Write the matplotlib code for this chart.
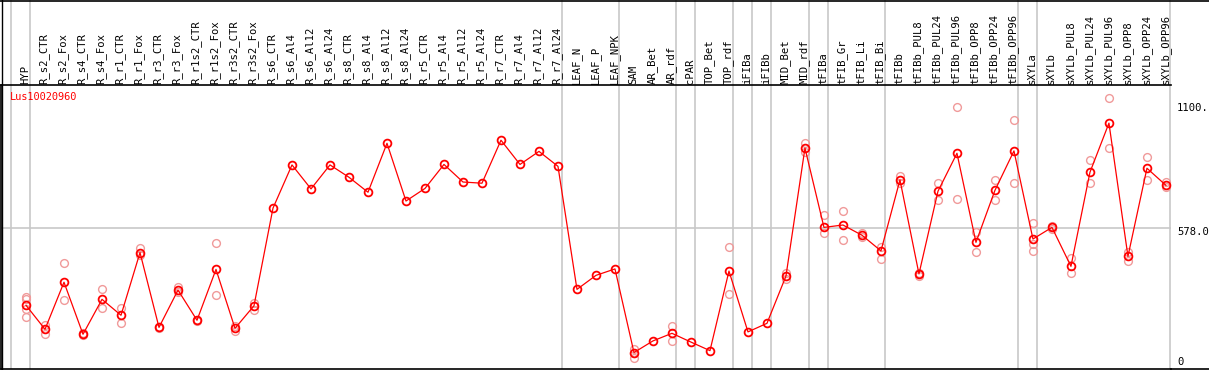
import matplotlib
matplotlib.use("Agg")
import matplotlib.pyplot as plt
from matplotlib.lines import Line2D
from matplotlib.transforms import blended_transform_factory

# sample names, left to right
samples = ["HYP",
           "R_s2_CTR", "R_s2_Fox", "R_s4_CTR", "R_s4_Fox", "R_r1_CTR", "R_r1_Fox",
           "R_r3_CTR", "R_r3_Fox", "R_r1s2_CTR", "R_r1s2_Fox", "R_r3s2_CTR", "R_r3s2_Fox",
           "R_s6_CTR", "R_s6_Al4", "R_s6_Al12", "R_s6_Al24",
           "R_s8_CTR", "R_s8_Al4", "R_s8_Al12", "R_s8_Al24",
           "R_r5_CTR", "R_r5_Al4", "R_r5_Al12", "R_r5_Al24",
           "R_r7_CTR", "R_r7_Al4", "R_r7_Al12", "R_r7_Al24",
           "LEAF_N", "LEAF_P", "LEAF_NPK",
           "SAM", "AR_Bet", "AR_rdf", "cPAR", "TOP_Bet", "TOP_rdf",
           "iFIBa", "iFIBb", "MID_Bet", "MID_rdf",
           "tFIBa", "tFIB_Gr", "tFIB_Li", "tFIB_Bi",
           "tFIBb", "tFIBb_PUL8", "tFIBb_PUL24", "tFIBb_PUL96",
           "tFIBb_OPP8", "tFIBb_OPP24", "tFIBb_OPP96",
           "sXYLa", "sXYLb", "sXYLb_PUL8", "sXYLb_PUL24", "sXYLb_PUL96",
           "sXYLb_OPP8", "sXYLb_OPP24", "sXYLb_OPP96"]

# mean expression per sample
means = [254, 153, 351, 132, 279, 212, 476, 161, 318, 191, 405, 157, 252,
         663, 845, 744, 845, 793, 730, 936, 693, 746, 847, 773, 768,
         949, 847, 902, 839,
         321, 380, 407,
         55, 104, 136, 99, 63, 398, 142, 178, 377, 916,
         582, 592, 549, 483,
         782, 386, 734, 894, 519, 738, 904,
         533, 582, 418, 814, 1021, 460, 831, 759]

# individual replicates (empty = single sample, hidden under the mean)
replicates = [[290, 282, 238, 203], [171, 134], [431, 275], [136, 128], [321, 241],
              [244, 181], [494, 466], [164, 158], [330, 308], [193, 189], [515, 297],
              [167, 146], [262, 234],
              [], [], [], [], [], [], [], [], [], [], [], [], [], [], [], [],
              [], [], [],
              [68, 55, 33], [], [168, 105], [], [], [498, 300], [], [], [391, 363], [936, 901],
              [634, 557], [651, 529], [560, 543], [501, 450],
              [798, 767], [390, 377], [769, 696], [1087, 702], [564, 477], [780, 696], [1034, 769],
              [600, 510, 482], [589, 575], [452, 389], [864, 767], [1125, 915],
              [480, 442], [877, 780], [771, 753]]

# last sample index of each group (gray separators)
group_ends = [-1, 0, 28, 31, 34, 35, 37, 38, 39, 41, 42, 45, 52, 53, 60]

gene = "Lus10020960"
ytick_vals = [1100, 578, 0]
ytick_text = ["1100.", "578.0", "0"]

W, H = 1209, 370
fig = plt.figure(figsize=(W / 100, H / 100), dpi=100)


def fx(px):
    return px / W


def fy(py):
    return 1 - py / H


mono = "DejaVu Sans Mono"
gray = "#c8c8c8"

ax = fig.add_axes([fx(1), fy(369), fx(1170.7) - fx(1), fy(85) - fy(369)])
ax.set_xlim(-1.316, 60.25)
ax.set_ylim(-14.3, 1181.5)
ax.set_xticks([])
ax.set_yticks([])
ax.spines["right"].set_visible(False)
for s in ["left", "top", "bottom"]:
    ax.spines[s].set_color("black")
    ax.spines[s].set_linewidth(1.2)

ax.axhline(578, color=gray, lw=1.2, zorder=0)

trans = blended_transform_factory(ax.transData, fig.transFigure)
sep = [g + 0.21 for g in group_ends]
ax.vlines(sep, fy(369), 1, transform=trans, clip_on=False, color=gray, lw=1.2, zorder=0)

# replicates
rx, ry = [], []
for i, reps in enumerate(replicates):
    for v in reps:
        rx.append(i)
        ry.append(v)
ax.plot(rx, ry, "o", ls="none", ms=5.6, mfc="none", mec="#f09a9a", mew=1.0, zorder=2)

# means
xs = list(range(len(samples)))
ax.plot(xs, means, "-", color="red", lw=0.9, zorder=3)
ax.plot(xs, means, "o", ls="none", ms=5.6, mfc="none", mec="red", mew=1.3, zorder=4)

# header labels
for i, name in enumerate(samples):
    ax.text(i - 0.05, fy(83.5), name, transform=trans, rotation=90, ha="center", va="bottom",
            family=mono, fontsize=7.6, color="black", clip_on=False)

# frame around the header
fig.add_artist(Line2D([0, 1], [fy(0.7), fy(0.7)], transform=fig.transFigure, color="black", lw=1.2))
fig.add_artist(Line2D([fx(1.5), fx(1.5)], [fy(0), fy(369)], transform=fig.transFigure, color="black", lw=1.0))
fig.add_artist(Line2D([fx(1170.7), 1], [fy(369), fy(369)], transform=fig.transFigure, color="black", lw=1.2))

fig.text(fx(10), fy(97), gene, color="red", family=mono, fontsize=7.4, ha="left", va="center")

# y labels on the right
for v, t in zip(ytick_vals, ytick_text):
    py = 365.6 - v * 0.2375 + 3.8
    py = min(py, 361.7)
    fig.text(fx(1177), fy(py), t, family=mono, fontsize=7.6, ha="left", va="center")

fig.savefig("out.png", dpi=100)
